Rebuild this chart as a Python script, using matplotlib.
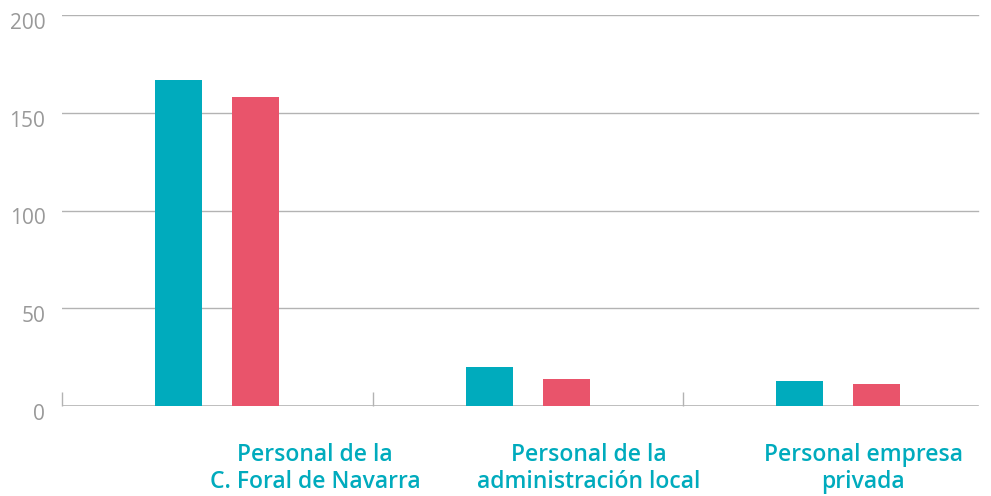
import matplotlib.pyplot as plt
import matplotlib.transforms as mtransforms
import numpy as np

# Data
categories = ['Personal de la\nC. Foral de Navarra',
              'Personal de la\nadministración local',
              'Personal empresa\nprivada']
serie_a = [167, 20, 13]
serie_b = [158, 14, 11]

teal = '#00abbd'
red = '#e9546b'
grey = '#999999'

fig = plt.figure(figsize=(9.91, 4.96), dpi=100)
ax = fig.add_axes([62/991, 90/496, 931.5/991, 391/496])

x = np.arange(len(categories))
w = 0.151
ax.bar(x - 0.124, serie_a, w, color=teal, zorder=3)
ax.bar(x + 0.124, serie_b, w, color=red, zorder=3)

ax.set_xlim(-0.5, 2.5)
ax.set_ylim(0, 200)
ax.set_yticks([0, 50, 100, 150, 200])
# gridlines stop a bit before the right edge
gx = (978 - 62) / 931.5
for yv in [50, 100, 150, 200]:
    ax.axhline(yv, xmin=0, xmax=gx, color='#b3b3b3', linewidth=1, zorder=0)
ax.tick_params(axis='y', length=0, labelsize=15, colors=grey, pad=12)
offset = mtransforms.ScaledTranslation(0, -6/100, fig.dpi_scale_trans)
for lab in ax.get_yticklabels():
    lab.set_fontfamily('Open Sans')
    lab.set_transform(lab.get_transform() + offset)

for s in ['top', 'right', 'left', 'bottom']:
    ax.spines[s].set_visible(False)
ax.axhline(0, xmin=0, xmax=gx, color='#b3b3b3', linewidth=1.2, zorder=2)

# boundary ticks pointing up
ax.set_xticks([-0.5, 0.5, 1.5])
ax.set_xticklabels([])
ax.tick_params(axis='x', direction='in', length=10, color='#b3b3b3', width=1)

# category labels (shifted right as in the original)
label_pos = [0.315, 1.197, 2.080]
for xp, lab in zip(label_pos, categories):
    ax.text(xp, -19, lab, ha='center', va='top', fontsize=16.5,
            color=teal, fontweight='semibold', family='Open Sans',
            linespacing=1.15, clip_on=False)

fig.savefig('out.png', dpi=100)
